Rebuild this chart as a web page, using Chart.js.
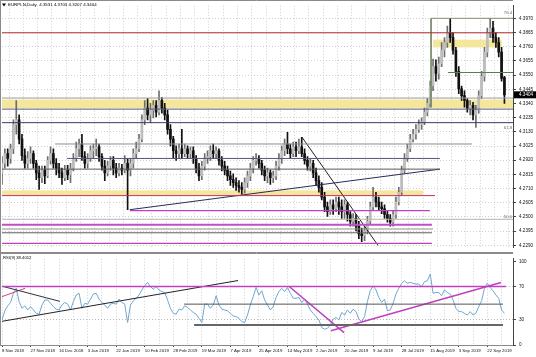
<!DOCTYPE html>
<html><head><meta charset="utf-8">
<script src="https://cdn.jsdelivr.net/npm/chart.js@4/dist/chart.umd.min.js"></script>
<style>
html,body{margin:0;padding:0;background:#fff;overflow:hidden}
#wrap{position:relative;width:536px;height:357px;background:#fff}
canvas{position:absolute;left:0}
#c1{top:0}
#c2{top:253px}
</style></head><body>
<div id="wrap"><canvas id="c1" width="536" height="253"></canvas><canvas id="c2" width="536" height="104"></canvas></div>
<script>
// ---------------- DATA ----------------
const symbolTitle = 'EURPLN,Daily';
const headerOHLC = ['4.3531', '4.3703', '4.3207', '4.3404'];
const rsiTitle = 'RSI(9) 38.4012';
const dateLabels = ['8 Nov 2018','27 Nov 2018','16 Dec 2018','3 Jan 2019','22 Jan 2019','10 Feb 2019','28 Feb 2019','19 Mar 2019','7 Apr 2019','25 Apr 2019','14 May 2019','2 Jun 2019','20 Jun 2019','9 Jul 2019','28 Jul 2019','15 Aug 2019','3 Sep 2019','22 Sep 2019'];
const barsPerLabel = 10;
const totalSlots = 179;

const opens = [
4.2826,4.2897,4.2969,4.2933,4.3005,4.3183,4.3219,4.3076,4.2954,4.2897,
4.2933,4.2969,4.2897,4.2826,4.2790,4.2847,4.2804,4.2919,4.2969,4.2897,
4.2862,4.2826,4.2790,4.2847,4.2811,4.2862,4.2933,4.3005,4.3040,4.2947,
4.2897,4.2933,4.2990,4.3005,4.3019,4.2947,4.2876,4.2826,4.2876,4.2919,
4.2862,4.2826,4.2862,4.2847,4.2897,4.2847,4.2897,4.2969,4.3005,4.3076,
4.3219,4.3305,4.3255,4.3291,4.3326,4.3276,4.3362,4.3305,4.3255,4.3148,
4.3076,4.2990,4.2969,4.3005,4.2969,4.3005,4.2969,4.2990,4.2933,4.2862,
4.2804,4.2876,4.2933,4.2947,4.2990,4.2969,4.2990,4.2919,4.2876,4.2847,
4.2804,4.2776,4.2754,4.2733,4.2719,4.2704,4.2754,4.2804,4.2862,4.2919,
4.2933,4.2897,4.2847,4.2804,4.2826,4.2790,4.2804,4.2876,4.2933,4.2990,
4.3040,4.3005,4.2969,4.3019,4.2990,4.3019,4.2969,4.2919,4.2876,4.2897,
4.2826,4.2769,4.2719,4.2647,4.2575,4.2540,4.2590,4.2561,4.2611,4.2575,
4.2540,4.2590,4.2518,4.2468,4.2490,4.2432,4.2375,4.2361,4.2397,4.2468,
4.2575,4.2647,4.2611,4.2575,4.2561,4.2518,4.2490,4.2461,4.2518,4.2611,
4.2683,4.2847,4.2933,4.3005,4.3076,4.3112,4.3148,4.3183,4.3205,4.3276,
4.3341,4.3469,4.3612,4.3562,4.3634,4.3734,4.3791,4.3863,4.3827,4.3734,
4.3577,4.3448,4.3398,4.3362,4.3305,4.3326,4.3255,4.3291,4.3398,4.3541,
4.3720,4.3863,4.3898,4.3827,4.3791,4.3720,4.3531];
const highs = [
4.2947,4.3005,4.3005,4.3040,4.3219,4.3362,4.3255,4.3112,4.3005,4.2983,
4.3019,4.2990,4.2919,4.2876,4.2876,4.2876,4.2947,4.3019,4.3005,4.2933,
4.2897,4.2862,4.2883,4.2883,4.2897,4.2969,4.3055,4.3076,4.3112,4.2983,
4.2969,4.3026,4.3040,4.3076,4.3040,4.2969,4.2919,4.2912,4.2947,4.2947,
4.2897,4.2897,4.2890,4.2954,4.2933,4.2933,4.3005,4.3055,4.3112,4.3255,
4.3362,4.3376,4.3341,4.3362,4.3362,4.3434,4.3383,4.3341,4.3291,4.3183,
4.3097,4.3026,4.3040,4.3148,4.3040,4.3026,4.3019,4.3019,4.2954,4.2897,
4.2912,4.2969,4.2990,4.3026,4.3040,4.3019,4.3005,4.2947,4.2912,4.2876,
4.2840,4.2819,4.2790,4.2769,4.2754,4.2790,4.2840,4.2897,4.2947,4.2969,
4.2954,4.2919,4.2876,4.2862,4.2847,4.2840,4.2912,4.2969,4.3026,4.3076,
4.3126,4.3040,4.3055,4.3055,4.3076,4.3090,4.3005,4.2947,4.2933,4.2919,
4.2862,4.2804,4.2754,4.2683,4.2611,4.2626,4.2626,4.2647,4.2647,4.2626,
4.2626,4.2611,4.2540,4.2525,4.2518,4.2468,4.2418,4.2432,4.2504,4.2611,
4.2719,4.2683,4.2647,4.2611,4.2590,4.2547,4.2518,4.2547,4.2647,4.2719,
4.2876,4.2969,4.3040,4.3112,4.3148,4.3183,4.3219,4.3233,4.3305,4.3376,
4.3505,4.3669,4.3662,4.3684,4.3791,4.3827,4.3913,4.3970,4.3863,4.3755,
4.3612,4.3469,4.3434,4.3376,4.3362,4.3348,4.3326,4.3434,4.3577,4.3755,
4.3898,4.3970,4.3948,4.3863,4.3827,4.3755,4.3541];
const lows = [
4.2740,4.2862,4.2876,4.2897,4.2969,4.3112,4.3040,4.2919,4.2862,4.2862,
4.2897,4.2862,4.2776,4.2704,4.2754,4.2747,4.2790,4.2890,4.2862,4.2811,
4.2790,4.2740,4.2769,4.2776,4.2754,4.2840,4.2912,4.2947,4.2919,4.2862,
4.2862,4.2912,4.2933,4.2954,4.2912,4.2847,4.2769,4.2804,4.2847,4.2811,
4.2790,4.2804,4.2811,4.2826,4.2554,4.2804,4.2862,4.2933,4.2983,4.3055,
4.3183,4.3219,4.3198,4.3233,4.3241,4.3255,4.3269,4.3219,4.3112,4.3026,
4.2933,4.2919,4.2933,4.2933,4.2947,4.2933,4.2933,4.2897,4.2826,4.2769,
4.2776,4.2847,4.2897,4.2919,4.2933,4.2933,4.2883,4.2840,4.2811,4.2769,
4.2733,4.2719,4.2697,4.2683,4.2669,4.2676,4.2719,4.2769,4.2826,4.2883,
4.2862,4.2811,4.2769,4.2754,4.2740,4.2754,4.2776,4.2847,4.2897,4.2954,
4.2969,4.2933,4.2947,4.2947,4.2969,4.2947,4.2890,4.2847,4.2840,4.2790,
4.2733,4.2683,4.2626,4.2540,4.2504,4.2518,4.2518,4.2540,4.2518,4.2490,
4.2490,4.2468,4.2432,4.2432,4.2397,4.2340,4.2318,4.2325,4.2375,4.2447,
4.2554,4.2575,4.2554,4.2525,4.2490,4.2461,4.2432,4.2432,4.2490,4.2590,
4.2661,4.2826,4.2912,4.2983,4.3055,4.3076,4.3126,4.3148,4.3183,4.3248,
4.3312,4.3434,4.3505,4.3519,4.3612,4.3684,4.3755,4.3791,4.3705,4.3541,
4.3412,4.3362,4.3312,4.3276,4.3255,4.3219,4.3162,4.3269,4.3376,4.3505,
4.3684,4.3827,4.3791,4.3755,4.3684,4.3505,4.3341];
const closes = [
4.2897,4.2969,4.2933,4.3005,4.3183,4.3219,4.3076,4.2954,4.2897,4.2933,
4.2969,4.2897,4.2826,4.2790,4.2847,4.2804,4.2919,4.2969,4.2897,4.2862,
4.2826,4.2790,4.2847,4.2811,4.2862,4.2933,4.3005,4.3040,4.2947,4.2897,
4.2933,4.2990,4.3005,4.3019,4.2947,4.2876,4.2826,4.2876,4.2919,4.2862,
4.2826,4.2862,4.2847,4.2897,4.2847,4.2897,4.2969,4.3005,4.3076,4.3219,
4.3305,4.3255,4.3291,4.3326,4.3276,4.3362,4.3305,4.3255,4.3148,4.3076,
4.2990,4.2969,4.3005,4.2969,4.3005,4.2969,4.2990,4.2933,4.2862,4.2804,
4.2876,4.2933,4.2947,4.2990,4.2969,4.2990,4.2919,4.2876,4.2847,4.2804,
4.2776,4.2754,4.2733,4.2719,4.2704,4.2754,4.2804,4.2862,4.2919,4.2933,
4.2897,4.2847,4.2804,4.2826,4.2790,4.2804,4.2876,4.2933,4.2990,4.3040,
4.3005,4.2969,4.3019,4.2990,4.3019,4.2969,4.2919,4.2876,4.2897,4.2826,
4.2769,4.2719,4.2647,4.2575,4.2540,4.2590,4.2561,4.2611,4.2575,4.2540,
4.2590,4.2518,4.2468,4.2490,4.2432,4.2375,4.2361,4.2397,4.2468,4.2575,
4.2647,4.2611,4.2575,4.2561,4.2518,4.2490,4.2461,4.2518,4.2611,4.2683,
4.2847,4.2933,4.3005,4.3076,4.3112,4.3148,4.3183,4.3205,4.3276,4.3341,
4.3469,4.3612,4.3562,4.3634,4.3734,4.3791,4.3863,4.3827,4.3734,4.3577,
4.3448,4.3398,4.3362,4.3305,4.3326,4.3255,4.3291,4.3398,4.3541,4.3720,
4.3863,4.3898,4.3827,4.3791,4.3720,4.3526,4.3404];
const rsiValues = [
30,41,47,51,62,68,52,44,47,42,
46,42,38,37,48,54,54,50,46,43,
42,48,51,49,42,52,60,62,44,50,
49,55,61,62,55,51,48,44,49,50,
49,55,51,49,27,48,53,56,60,66,
71,75,70,67,70,66,64,63,54,44,
38,37,43,42,47,45,42,39,37,32,
27,49,49,44,48,59,48,43,42,41,
38,35,34,32,28,27,36,48,58,69,
60,65,54,48,42,46,57,64,68,64,
69,62,56,56,57,51,55,49,42,38,
34,30,21,19,20,24,31,33,30,39,
36,42,38,43,40,31,28,34,52,65,
71,66,57,51,55,41,42,50,61,68,
74,77,74,75,74,73,73,70,76,77,
85,62,63,63,59,66,63,61,54,44,
40,40,38,36,40,36,38,46,53,68,
74,69,65,60,56,42,38];

const priceTicks = [4.3970,4.3865,4.3760,4.3655,4.3550,4.3445,4.3340,4.3235,4.3130,4.3025,4.2920,4.2815,4.2710,4.2605,4.2500,4.2395,4.2290];
const priceMin = 4.2276, priceMax = 4.4063;
const lastPrice = 4.3404;
const rsiTicks = [0, 30, 70, 100];
const rsiLevels = [30, 70];
const rsiMin = 0, rsiMax = 103.4;

// horizontal levels in main window: [price, fromBar, toBar]
const mainLevels = [
  [4.3863, 0, 179],
  [4.3970, 150.3, 179],
  [4.3569, 156.2, 179],
  [4.3380, 0, 179],
  [4.3298, 0, 179],
  [4.3198, 0, 179],
  [4.3040, 18.6, 164.6],
  [4.2933, 22.8, 153.4],
  [4.2854, 0, 153.4],
  [4.2658, 0, 151.7],
  [4.2547, 44.8, 149.9],
  [4.2483, 0, 179],
  [4.2443, 0, 150.6],
  [4.2411, 0, 151],
  [4.2383, 0, 150.6],
  [4.2304, 0, 150.6]
];
const mainLevelColors = ['#b22a2a','#8a8a7a','#5a7a5a','#9a9a9a','#5a5a7a','#3b3b6b','#8c8c8c','#55557a','#5a5a5a','#c0306a','#c040c0','#b4b4b4','#c050c0','#909090','#606060','#c040c0'];
const mainLevelWidths = [1,1,1,1,1,1,1,1,1,1,1.2,1,2,1,1,1.2];
// trend lines: [fromBar, fromPrice, toBar, toPrice]
const mainTrends = [
  [44.8, 4.2554, 153.4, 4.2854],
  [105.1, 4.3090, 131.7, 4.2290],
  [150.3, 4.3970, 150.3, 4.3312]
];
const mainTrendColors = ['#2a2a5a', '#222222', '#7a8a6a'];
// shaded zones: [priceHigh, priceLow, fromBar, toBar]
const zones = [
  [4.3812, 4.3755, 151, 175.1],
  [4.3369, 4.3305, 0, 179],
  [4.2697, 4.2661, 0, 147.5]
];
const fibLevels = [4.3970, 4.3198, 4.2483];
const fibLabels = ['76.4', '61.8', '50.0'];

// RSI window lines: [fromBar, fromValue, toBar, toValue]
const rsiLines = [
  [0, 70, 176.5, 70],
  [63.8, 49, 175.5, 49],
  [67.3, 24, 175.5, 24],
  [0, 28.4, 82.7, 77.3],
  [0, 70.5, 20.3, 52.3],
  [0, 58, 8.1, 68],
  [100.5, 70.5, 119.8, 14.8],
  [115.2, 17, 174.8, 75]
];
const rsiLineColors = ['#c040c0','#555555','#666666','#222222','#333333','#d04080','#c040c0','#c040c0'];
const rsiLineWidths = [1.5,1,2,1,1,1,1.5,1.5];

// ---------------- BUILD ----------------
const FONT = '"Liberation Sans", Arial, sans-serif';
const idx = closes.map((_, i) => i);
const bull = idx.map(i => closes[i] >= opens[i]);
const gridTicks = [];
for (let i = 0; i < totalSlots - 3; i += barsPerLabel / 2) gridTicks.push(i);

function segDataset(x1, y1, x2, y2, color, width) {
  return {type: 'line', data: [{x: x1, y: y1}, {x: x2, y: y2}], borderColor: color, borderWidth: width,
    pointRadius: 0, fill: false, tension: 0, order: 0};
}

const mainDatasets = [
  {type: 'bar', data: idx.map(i => ({x: i, y: [lows[i], highs[i]]})),
   backgroundColor: bull.map(b => b ? '#6e6e6e' : '#111111'), barThickness: 1, grouped: false, order: 3},
  {type: 'bar', data: idx.map(i => ({x: i, y: [opens[i], closes[i]]})),
   backgroundColor: bull.map(b => b ? '#bdbdbd' : '#111111'), barThickness: 2, minBarLength: 1, grouped: false, order: 2}
];
mainLevels.forEach((l, k) => mainDatasets.push(segDataset(l[1], l[0], l[2], l[0], mainLevelColors[k], mainLevelWidths[k])));
mainTrends.forEach((t, k) => mainDatasets.push(segDataset(t[0], t[1], t[2], t[3], mainTrendColors[k], 1)));

const zonePlugin = {
  id: 'zones',
  beforeDatasetsDraw(chart) {
    const {ctx, chartArea: a, scales: {x, y}} = chart;
    ctx.save();
    ctx.beginPath(); ctx.rect(a.left, a.top, a.right - a.left, a.bottom - a.top); ctx.clip();
    ctx.fillStyle = '#f4e79c';
    zones.forEach(z => {
      const x1 = x.getPixelForValue(z[2]), x2 = x.getPixelForValue(z[3]);
      const y1 = y.getPixelForValue(z[0]), y2 = y.getPixelForValue(z[1]);
      ctx.fillRect(x1, y1, x2 - x1, y2 - y1);
    });
    ctx.restore();
  }
};

const mainText = {
  id: 'mainText',
  afterDraw(chart) {
    const {ctx, chartArea: a, scales: {y}} = chart;
    ctx.save();
    // frame
    ctx.strokeStyle = '#8a8a8a'; ctx.lineWidth = 1;
    ctx.beginPath();
    ctx.moveTo(0.5, 0); ctx.lineTo(0.5, 253);
    ctx.moveTo(0, 0.5); ctx.lineTo(a.right, 0.5);
    ctx.moveTo(0, 252.5); ctx.lineTo(a.right, 252.5);
    ctx.stroke();
    // header
    ctx.fillStyle = '#000';
    ctx.beginPath(); ctx.moveTo(2, 3.5); ctx.lineTo(6, 3.5); ctx.lineTo(4, 6.5); ctx.closePath(); ctx.fill();
    ctx.font = '4.4px ' + FONT; ctx.textBaseline = 'middle'; ctx.textAlign = 'left';
    ctx.fillText(symbolTitle + '  ' + headerOHLC.join(' '), 8, 5);
    // fib labels
    ctx.fillStyle = '#666'; ctx.textAlign = 'right'; ctx.font = '4.2px ' + FONT;
    const offs = [-5, 5, -2];
    fibLevels.forEach((p, k) => ctx.fillText(fibLabels[k], a.right - 1, y.getPixelForValue(p) + offs[k]));
    // current price box
    const yp = y.getPixelForValue(lastPrice);
    ctx.fillStyle = '#000';
    ctx.fillRect(a.right + 1, yp - 3.5, 535 - a.right, 7);
    ctx.fillStyle = '#fff'; ctx.textAlign = 'left'; ctx.font = '4.6px ' + FONT;
    ctx.fillText(lastPrice.toFixed(4), a.right + 6, yp);
    ctx.restore();
  }
};

new Chart(document.getElementById('c1'), {
  type: 'bar',
  data: {datasets: mainDatasets},
  options: {
    responsive: false, animation: false, devicePixelRatio: 1,
    layout: {padding: {left: 2, right: 0, top: 2, bottom: 1}},
    plugins: {legend: {display: false}, tooltip: {enabled: false}},
    scales: {
      x: {type: 'linear', min: 0, max: totalSlots, offset: false,
          afterBuildTicks: s => { s.ticks = gridTicks.map(v => ({value: v})); },
          afterFit: s => { s.height = 0; },
          ticks: {display: false},
          grid: {color: '#cfcfcf', lineWidth: 1, drawTicks: false},
          border: {display: false, dash: [1, 2]}},
      y: {type: 'linear', position: 'right', min: priceMin, max: priceMax,
          afterBuildTicks: s => { s.ticks = priceTicks.map(v => ({value: v})); },
          afterFit: s => { s.width = 23; },
          ticks: {font: {family: FONT, size: 4.6}, color: '#111', padding: 3, callback: v => Number(v).toFixed(4)},
          grid: {color: '#cfcfcf', lineWidth: 1, drawTicks: true, tickLength: 3, tickColor: '#444'},
          border: {display: true, color: '#444', width: 1, dash: [1, 2]}}
    }
  },
  plugins: [zonePlugin, mainText]
});

// ---------------- RSI ----------------
const rsiDatasets = [
  {type: 'line', data: idx.map(i => ({x: i, y: rsiValues[i]})), borderColor: '#6fa8d0', borderWidth: 1,
   pointRadius: 0, tension: 0, fill: false, order: 2}
];
rsiLines.forEach((l, k) => rsiDatasets.push(segDataset(l[0], l[1], l[2], l[3], rsiLineColors[k], rsiLineWidths[k])));

const rsiText = {
  id: 'rsiText',
  afterDraw(chart) {
    const {ctx, chartArea: a} = chart;
    ctx.save();
    ctx.strokeStyle = '#8a8a8a'; ctx.lineWidth = 1;
    ctx.beginPath();
    ctx.moveTo(0, 0.5); ctx.lineTo(a.right, 0.5);
    ctx.moveTo(0.5, 0); ctx.lineTo(0.5, a.bottom);
    ctx.moveTo(0, a.bottom + 0.5); ctx.lineTo(a.right, a.bottom + 0.5);
    ctx.stroke();
    ctx.fillStyle = '#000'; ctx.font = '4.2px ' + FONT; ctx.textBaseline = 'middle'; ctx.textAlign = 'left';
    ctx.fillText(rsiTitle, 3, 4.5);
    ctx.restore();
  }
};

new Chart(document.getElementById('c2'), {
  type: 'line',
  data: {datasets: rsiDatasets},
  options: {
    responsive: false, animation: false, devicePixelRatio: 1,
    layout: {padding: {left: 2, right: 0, top: 1, bottom: 0}},
    plugins: {legend: {display: false}, tooltip: {enabled: false}},
    scales: {
      x: {type: 'linear', min: 0, max: totalSlots, offset: false,
          afterBuildTicks: s => { s.ticks = gridTicks.map(v => ({value: v})); },
          afterFit: s => { s.height = 12; },
          ticks: {font: {family: FONT, size: 4.3}, color: '#111', padding: 1, align: 'start', maxRotation: 0, minRotation: 0, autoSkip: false,
                  callback: v => (v % barsPerLabel === 0 ? dateLabels[v / barsPerLabel] : '')},
          grid: {color: '#cfcfcf', lineWidth: 1, drawTicks: true, tickLength: 2,
                 tickColor: c => (c.tick && c.tick.value % barsPerLabel === 0 ? '#444' : 'rgba(0,0,0,0)')},
          border: {display: false, dash: [1, 2]}},
      y: {type: 'linear', position: 'right', min: rsiMin, max: rsiMax,
          afterBuildTicks: s => { s.ticks = rsiTicks.map(v => ({value: v})); },
          afterFit: s => { s.width = 23; },
          ticks: {font: {family: FONT, size: 4.6}, color: '#111', padding: 3, callback: v => String(v)},
          grid: {color: c => (c.tick && rsiLevels.includes(c.tick.value) ? '#b8b8b8' : 'rgba(0,0,0,0)'),
                 lineWidth: 1, drawTicks: true, tickLength: 3, tickColor: '#444'},
          border: {display: true, color: '#444', width: 1, dash: [1, 2]}}
    }
  },
  plugins: [rsiText]
});
</script>
</body></html>
